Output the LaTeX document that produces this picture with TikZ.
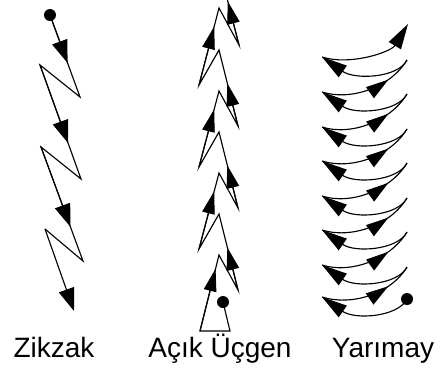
\documentclass[tikz,border=0pt]{standalone}
\usepackage{fontspec}
\setmainfont{Liberation Sans}
\usetikzlibrary{arrows.meta,calc,decorations.markings}

\begin{document}
\begin{tikzpicture}[x=0.75pt, y=-0.75pt,
    line/.style={line width=0.85pt, line join=miter},
    dot/.style={circle, fill=black, inner sep=0pt, minimum size=9pt},
    zhead/.style={line, -{Triangle[length=17pt, width=12pt]}},
    uhead/.style={line, -{Triangle[length=17pt, width=9.5pt]}},
    yhead/.style={line, -{Triangle[length=19pt, width=10.5pt]}},
    midtip/.style={line, postaction={decorate}, decoration={markings,
        mark=at position #1 with {\arrow{Triangle[length=17pt, width=10pt]}}}},
    caption/.style={font=\fontsize{21}{25}\selectfont, anchor=base}
]
\clip (0,0) rectangle (445,375);

% Zikzak
\node[dot] (zdot) at (50,15) {};
\coordinate (z1) at (80,97);
\coordinate (z2) at (40,65);
\coordinate (z3) at (81,179);
\coordinate (z4) at (41,147);
\coordinate (z5) at (83,261);
\coordinate (z6) at (45,229);
\coordinate (z7) at (74,311);
\draw[line] (zdot.center) -- (z1) -- (z2) -- (z3) -- (z4) -- (z5) -- (z6);
\draw[zhead] (zdot.center) -- ($(zdot.center)!0.585!(z1)$);
\draw[zhead] (z2) -- ($(z2)!0.685!(z3)$);
\draw[zhead] (z4) -- ($(z4)!0.70!(z5)$);
\draw[zhead] (z6) -- (z7);

% Acik Ucgen
\node[dot] (udot) at (223,302) {};
\coordinate (ubr) at (230,331);
\coordinate (ubl) at (200,331);
\coordinate (p7) at (219,255);
\coordinate (r4) at (238,290);
\coordinate (p6) at (219,214);
\coordinate (l3) at (199,249);
\coordinate (p5) at (219,173);
\coordinate (r3) at (238,208);
\coordinate (p4) at (219,132);
\coordinate (l2) at (199,167);
\coordinate (p3) at (219,91);
\coordinate (r2) at (238,126);
\coordinate (p2) at (219,50);
\coordinate (l1) at (199,85);
\coordinate (p1) at (219,8);
\coordinate (r1) at (239,45);
\coordinate (p0) at (219,-33);
\draw[line] (udot.center) -- (ubr) -- (ubl) -- (p7) -- (r4) -- (p6) -- (l3) -- (p5)
    -- (r3) -- (p4) -- (l2) -- (p3) -- (r2) -- (p2) -- (l1) -- (p1) -- (r1) -- (p0);
\draw[uhead] (ubl) -- ($(ubl)!0.82!(p7)$);
\draw[uhead] (l3) -- ($(l3)!0.76!(p5)$);
\draw[uhead] (l2) -- ($(l2)!0.76!(p3)$);
\draw[uhead] (l1) -- ($(l1)!0.76!(p1)$);
\draw[uhead] (r4) -- ($(r4)!0.56!(p6)$);
\draw[uhead] (r3) -- ($(r3)!0.56!(p4)$);
\draw[uhead] (r2) -- ($(r2)!0.56!(p2)$);
\draw[uhead] (r1) -- ($(r1)!0.56!(p0)$);

% Yarimay
\node[dot] (ydot) at (407,299) {};
\draw[yhead] (ydot.center) .. controls +(-9,18) and +(33,23) .. (322,297);
\draw[midtip=0.72] (322,297) .. controls +(28,9) and +(-17,28) .. (407,267);
\draw[yhead] (407,267) .. controls +(-9,18) and +(33,23) .. (322,265);
\draw[midtip=0.72] (322,265) .. controls +(28,9) and +(-17,28) .. (407,232);
\draw[yhead] (407,232) .. controls +(-9,18) and +(33,23) .. (322,230);
\draw[midtip=0.72] (322,230) .. controls +(28,9) and +(-17,28) .. (407,198);
\draw[yhead] (407,198) .. controls +(-9,18) and +(33,23) .. (322,196);
\draw[midtip=0.72] (322,196) .. controls +(28,9) and +(-17,28) .. (407,163);
\draw[yhead] (407,163) .. controls +(-9,18) and +(33,23) .. (322,161);
\draw[midtip=0.72] (322,161) .. controls +(28,9) and +(-17,28) .. (407,129);
\draw[yhead] (407,129) .. controls +(-9,18) and +(33,23) .. (322,127);
\draw[midtip=0.72] (322,127) .. controls +(28,9) and +(-17,28) .. (407,94);
\draw[yhead] (407,94) .. controls +(-9,18) and +(33,23) .. (322,92);
\draw[midtip=0.72] (322,92) .. controls +(28,9) and +(-17,28) .. (407,60);
\draw[yhead] (407,60) .. controls +(-9,18) and +(33,23) .. (322,57);
\draw[yhead] (322,57) .. controls +(28,9) and +(-17,28) .. (408,24);

% Labels
\node[caption] (zname) at (54,357) {Zikzak};
\node[caption] (uname) at (220,357) {Açık Üçgen};
\node[caption] (yname) at (383,357) {Yarımay};

\end{tikzpicture}
\end{document}
